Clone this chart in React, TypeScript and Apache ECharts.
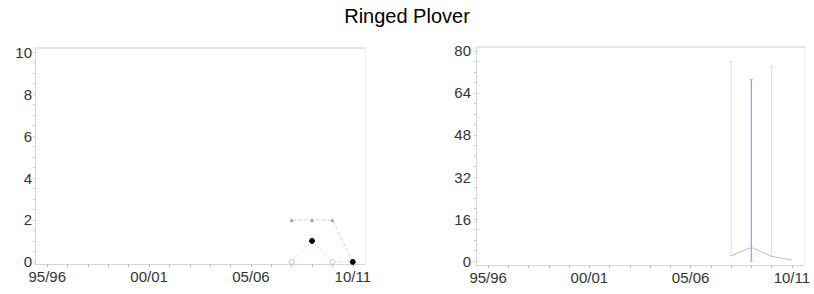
import React, { useEffect, useRef } from "react";
import * as echarts from "echarts";

const seasons = ["95/96","96/97","97/98","98/99","99/00","00/01","01/02","02/03","03/04","04/05","05/06","06/07","07/08","08/09","09/10","10/11"];
const xLabelPositions = [0, 5, 10, 15];

// Left panel
const leftYLabels = [0, 2, 4, 6, 8, 10];
const triangleValues: (number | null)[] = [null,null,null,null,null,null,null,null,null,null,null,null,2,2,2,0];
const circleValues: (number | null)[] = [null,null,null,null,null,null,null,null,null,null,null,null,0,1,0,0];
const circleFilled: boolean[] = [false,false,false,false,false,false,false,false,false,false,false,false,false,true,false,true];

// Right panel
const rightYLabels = [0, 16, 32, 48, 64, 80];
const meanValues: (number | null)[] = [null,null,null,null,null,null,null,null,null,null,null,null,2,5.2,1.8,0.4];
const lowerValues: (number | null)[] = [null,null,null,null,null,null,null,null,null,null,null,null,2,0,1.8,null];
const upperValues: (number | null)[] = [null,null,null,null,null,null,null,null,null,null,null,null,76,69,74,null];
const barStrong: boolean[] = [false,false,false,false,false,false,false,false,false,false,false,false,false,true,false,false];

const FONT = "Liberation Sans, Arial, sans-serif";

function range(a: number, b: number, step: number) {
  const out: number[] = [];
  for (let v = a; v <= b + 1e-9; v += step) out.push(+v.toFixed(4));
  return out;
}

export default function App() {
  const ref = useRef<HTMLDivElement>(null);
  useEffect(() => {
    if (!ref.current) return;
    const chart = echarts.init(ref.current, undefined, { renderer: "svg" });
    const yearTicks = seasons.map((_, i) => i);

    const makeX = (gridIndex: number) => ({
      type: "value",
      gridIndex,
      min: -0.6,
      max: 15.6,
      axisLine: { show: true, onZero: false, lineStyle: { color: "#d8d8d8", width: 1 } },
      axisTick: { show: true, customValues: yearTicks, length: 3, lineStyle: { color: "#bbbbbb" } },
      axisLabel: {
        customValues: xLabelPositions,
        formatter: (v: number) => seasons[Math.round(v)] ?? "",
        color: "#333",
        fontSize: 15,
        fontFamily: FONT,
        margin: 5,
      },
      splitLine: { show: false },
    });
    const makeTopX = (gridIndex: number) => ({
      type: "value",
      gridIndex,
      position: "top",
      min: -0.6,
      max: 15.6,
      axisLine: { show: true, onZero: false, lineStyle: { color: "#e6e6e6", width: 2 } },
      axisTick: { show: false },
      axisLabel: { show: false },
      splitLine: { show: false },
    });
    const makeY = (gridIndex: number, min: number, max: number, labels: number[], tickStep: number, margin: number) => ({
      type: "value",
      gridIndex,
      min,
      max,
      axisLine: { show: true, onZero: false, lineStyle: { color: "#d0d0d0", type: "dotted", width: 1 } },
      axisTick: { show: true, customValues: range(0, labels[labels.length - 1], tickStep), length: 2, lineStyle: { color: "#cccccc" } },
      axisLabel: {
        customValues: labels,
        color: "#333",
        fontSize: 15,
        fontFamily: FONT,
        margin,
      },
      splitLine: { show: false },
    });
    const makeRightY = (gridIndex: number, min: number, max: number) => ({
      type: "value",
      gridIndex,
      position: "right",
      min,
      max,
      axisLine: { show: true, onZero: false, lineStyle: { color: "#efefef", width: 1 } },
      axisTick: { show: false },
      axisLabel: { show: false },
      splitLine: { show: false },
    });

    const pair = (vals: (number | null)[]) => vals.map((v, i) => [i, v]).filter((d) => d[1] !== null);

    const barData = seasons
      .map((_, i) => [i, lowerValues[i], upperValues[i], barStrong[i] ? 1 : 0])
      .filter((d) => d[1] !== null && d[2] !== null);

    chart.setOption({
      animation: false,
      title: {
        text: "Ringed Plover",
        left: "center",
        top: 1,
        textStyle: { fontSize: 20, fontWeight: "normal", color: "#000", fontFamily: FONT },
      },
      grid: [
        { left: 35, right: 449, top: 48, bottom: 30 },
        { left: 476, right: 10, top: 47, bottom: 29 },
      ],
      xAxis: [makeX(0), makeX(1), makeTopX(0), makeTopX(1)],
      yAxis: [
        makeY(0, -0.1, 10.2, leftYLabels, 0.5, 3),
        makeY(1, -1.5, 81.5, rightYLabels, 4, 5),
        makeRightY(0, -0.1, 10.2),
        makeRightY(1, -1.5, 81.5),
      ],
      series: [
        {
          type: "line",
          xAxisIndex: 0,
          yAxisIndex: 0,
          data: pair(triangleValues),
          symbol: "triangle",
          symbolSize: 4,
          itemStyle: { color: "#a0a0a0" },
          lineStyle: { color: "#d4d4d4", type: "dashed", width: 1 },
        },
        {
          type: "line",
          xAxisIndex: 0,
          yAxisIndex: 0,
          data: seasons
            .map((_, i) =>
              circleValues[i] === null
                ? null
                : {
                    value: [i, circleValues[i]],
                    itemStyle: circleFilled[i]
                      ? { color: "#000", borderColor: "#000", borderWidth: 1 }
                      : { color: "#fff", borderColor: "#c0c0c0", borderWidth: 1 },
                  }
            )
            .filter((d) => d !== null),
          symbol: "circle",
          symbolSize: 5,
          lineStyle: { color: "#d8d8d8", type: "dotted", width: 1 },
        },
        {
          type: "custom",
          xAxisIndex: 1,
          yAxisIndex: 1,
          data: barData,
          renderItem: (params: any, api: any) => {
            const x = api.value(0);
            const lo = api.value(1);
            const hi = api.value(2);
            const strong = api.value(3) === 1;
            const p1 = api.coord([x, lo]);
            const p2 = api.coord([x, hi]);
            const color = strong ? "#9a9af0" : "#dcdcfa";
            return {
              type: "group",
              children: [
                { type: "line", shape: { x1: p1[0], y1: p1[1], x2: p2[0], y2: p2[1] }, style: { stroke: color, lineWidth: strong ? 1.2 : 1 } },
                { type: "line", shape: { x1: p2[0] - 1.5, y1: p2[1], x2: p2[0] + 1.5, y2: p2[1] }, style: { stroke: color, lineWidth: 1 } },
                { type: "line", shape: { x1: p1[0] - 1.5, y1: p1[1], x2: p1[0] + 1.5, y2: p1[1] }, style: { stroke: color, lineWidth: 1 } },
              ],
            };
          },
        },
        {
          type: "line",
          xAxisIndex: 1,
          yAxisIndex: 1,
          data: pair(meanValues),
          symbol: "none",
          lineStyle: { color: "#b8b8f2", width: 1 },
        },
      ],
    });
    return () => chart.dispose();
  }, []);
  return <div ref={ref} style={{ width: 814, height: 294, position: "absolute", left: 0, top: 0 }} />;
}
